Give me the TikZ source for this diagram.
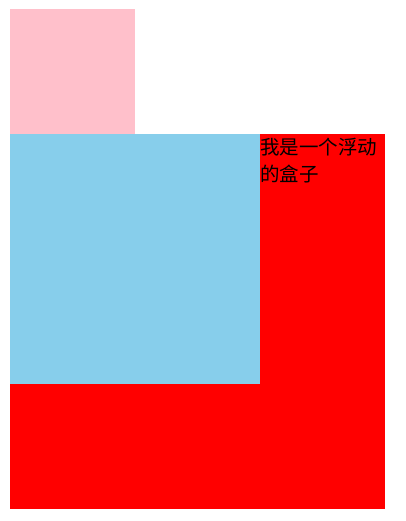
\documentclass[tikz,border=0pt]{standalone}
\usepackage{fontspec}
\newfontfamily\cjk{Noto Sans CJK SC}
\definecolor{boxpink}{HTML}{FFC0CB}
\definecolor{boxblue}{HTML}{87CEEB}
\definecolor{boxred}{HTML}{FF0000}
\begin{document}
\begin{tikzpicture}[x=1pt,y=-1pt]
\useasboundingbox[fill=white] (0,0) rectangle (406,521);
\fill[boxred] (10,134) rectangle (385,509);
\fill[boxpink] (10,9) rectangle (135,134);
\fill[boxblue] (10,134) rectangle (260,384);
\node[anchor=north west, inner sep=0pt, align=left, font=\cjk\fontsize{19.5}{27}\selectfont] (t) at (260,137.5) {我是一个浮动\\的盒子};
\end{tikzpicture}
\end{document}
